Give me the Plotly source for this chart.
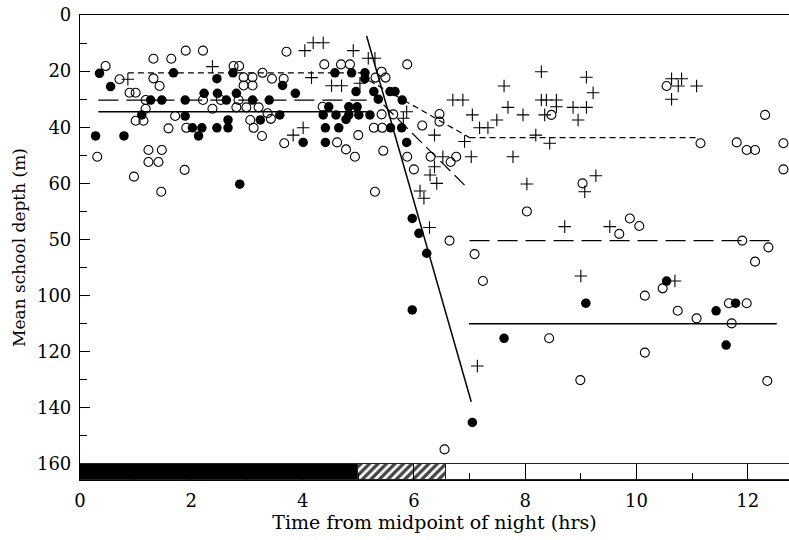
import plotly.graph_objects as go

# ---------------- data (time from midpoint of night, hrs ; mean school depth, m)
filled_x = [0.35, 0.28, 0.55, 0.79, 1.11, 1.27, 1.47, 1.68, 1.89, 1.89, 2.02, 2.19, 2.13, 2.23, 2.46, 2.47,
            2.63, 2.66, 2.66, 2.46, 2.75, 2.81, 3.10, 3.24, 3.40, 3.59, 3.64, 3.87, 4.01, 4.37, 4.41, 4.41,
            4.47, 2.87,
            4.58, 4.88, 5.12, 5.12, 4.96, 5.28, 5.36, 5.57, 5.66, 5.79, 4.83, 4.98, 4.60, 4.83, 5.01, 5.21,
            4.78, 4.65, 5.58, 5.78, 5.87,
            5.97, 6.09, 6.23, 10.54, 5.97, 7.62, 7.05, 9.09, 11.43, 11.78, 11.61]
filled_y = [20.8, 43.1, 25.5, 43.1, 35.6, 30.3, 30.3, 20.6, 30.3, 36.0, 40.2, 40.2, 43.1, 27.9, 22.7, 27.9,
            30.3, 37.4, 40.2, 40.2, 20.6, 27.9, 30.3, 37.4, 30.3, 35.6, 25.1, 27.9, 45.4, 35.6, 40.2, 45.4,
            32.7, 60.3,
            20.6, 20.6, 20.6, 22.7, 27.3, 27.3, 30.0, 27.3, 27.3, 30.3, 32.7, 32.7, 35.6, 35.6, 35.6, 35.6,
            37.2, 40.2, 40.2, 40.2, 45.4,
            72.5, 77.8, 84.9, 94.8, 105.1, 115.2, 145.2, 102.7, 105.4, 102.7, 117.6]

open_x = [0.46, 0.31, 0.71, 0.89, 1.00, 1.18, 1.18, 1.00, 1.14, 1.32, 1.32, 1.43, 1.23, 1.47, 1.23, 1.41,
          0.97, 1.64, 1.59, 1.71, 1.90, 2.21, 1.88, 1.91, 2.21, 2.38, 2.53, 2.76, 2.86, 2.94, 2.94, 3.10,
          3.10, 2.85, 2.81, 2.99, 3.21, 3.06, 3.12, 3.27, 3.28, 3.45, 3.37, 3.43, 3.66, 3.71, 3.67, 4.39,
          4.36, 1.46, 5.30,
          4.69, 4.85, 5.88, 5.42, 5.31, 5.49, 5.42, 5.63, 5.28, 5.43, 5.00, 4.62, 4.78, 4.94, 5.45, 5.88,
          6.00, 6.15, 6.46, 6.46, 6.30, 6.66, 6.76,
          8.47, 10.54, 11.15, 11.80, 11.98, 12.13, 12.31, 12.64, 12.64,
          8.03, 9.03, 9.88, 10.05, 9.69, 6.64, 7.09, 7.24, 11.90, 12.37, 12.13, 10.15, 10.47,
          6.55, 8.43, 8.99, 10.15, 10.74, 11.08, 11.66, 11.98, 11.71, 12.35]
open_y = [18.2, 50.5, 22.9, 27.7, 27.7, 30.3, 33.4, 37.7, 37.7, 15.6, 22.6, 25.3, 48.1, 48.1, 52.4, 52.4,
          57.6, 15.6, 40.4, 36.0, 12.7, 12.7, 55.2, 40.2, 30.3, 33.4, 30.3, 18.2, 18.2, 22.2, 25.1, 22.2,
          25.1, 30.3, 32.9, 32.9, 32.9, 37.4, 40.2, 43.1, 20.6, 22.7, 35.0, 37.0, 22.7, 13.1, 45.7, 17.6,
          32.7, 63.0, 63.0,
          17.6, 17.6, 17.6, 20.2, 22.3, 22.3, 35.4, 35.4, 40.2, 40.2, 42.8, 45.4, 47.9, 50.5, 48.4, 50.5,
          55.0, 39.4, 35.3, 38.0, 50.5, 52.4, 50.5,
          35.6, 25.3, 45.7, 45.4, 48.1, 48.1, 35.6, 45.7, 55.0,
          70.0, 60.0, 72.5, 75.2, 78.0, 80.4, 85.2, 94.8, 80.4, 82.8, 87.9, 100.0, 97.4,
          154.8, 115.2, 130.1, 120.3, 105.4, 108.1, 102.7, 102.7, 109.9, 130.4]

plus_x = [0.86, 2.38, 3.83, 4.01,
          4.04, 4.19, 4.37, 4.91, 5.18, 5.30, 4.16, 4.52, 4.70, 5.03, 5.87, 5.81, 6.37, 6.52, 6.37, 6.29,
          7.03, 6.91, 6.70, 6.88, 7.05, 7.18, 7.33, 7.49, 7.62, 7.69, 7.96, 7.78, 8.29, 8.19, 8.29, 8.38,
          8.35,
          8.56, 8.56, 8.44, 9.10, 9.22, 8.86, 9.10, 8.95, 10.63, 10.81, 10.75, 11.08, 10.63, 9.27,
          6.41, 6.11, 6.18, 6.28, 8.03, 9.07, 8.71, 9.52, 9.00, 10.69, 7.14]
plus_y = [22.9, 18.4, 42.8, 40.2,
          12.7, 9.9, 9.9, 12.7, 15.4, 15.4, 22.3, 25.2, 25.2, 24.3, 34.5, 36.8, 42.8, 50.5, 54.1, 57.0,
          50.5, 45.1, 30.3, 30.3, 35.6, 40.2, 40.2, 37.4, 25.3, 32.9, 35.6, 50.5, 20.2, 42.8, 30.3, 30.3,
          35.6,
          30.3, 32.7, 45.7, 22.2, 27.7, 32.9, 32.9, 37.4, 22.7, 22.7, 25.3, 25.3, 30.0, 57.3,
          60.0, 62.7, 65.3, 75.7, 60.2, 63.0, 75.4, 75.4, 93.0, 94.8, 125.1]

# fitted lines: night level, transition, day level
filled_fit_x = [[0.33, 5.15], [5.15, 7.03], [6.99, 12.52]]
filled_fit_y = [[34.5, 34.5], [7.5, 137.8], [110.0, 110.0]]
open_fit_x = [[0.33, 5.15], [5.2, 6.94], [7.0, 12.52]]
open_fit_y = [[30.3, 30.3], [27.0, 61.2], [80.4, 80.4]]
plus_fit_x = [[0.86, 5.15], [5.2, 7.0], [7.0, 11.08]]
plus_fit_y = [[20.6, 20.6], [23.4, 43.7], [43.7, 43.7]]

# light phases along the time axis (night, twilight, day)
phase_start = [0.0, 5.0, 6.57]
phase_end = [5.0, 6.57, 13.5]
phase_depth_top = 160.0
phase_depth_bottom = 165.7

ytick_vals = [0, 20, 40, 60, 80, 100, 120, 140, 160]
ytick_text = ["0", "20", "40", "60", "50", "100", "120", "140", "160"]

# ---------------- figure
FONT = "DejaVu Serif"
FS_TICK = 18
FS_XTITLE = 19
FS_YTITLE = 17
fig = go.Figure()

fig.add_trace(go.Bar(
    orientation="h",
    y=[(phase_depth_top + phase_depth_bottom) / 2] * len(phase_start),
    x=[e - s for s, e in zip(phase_start, phase_end)],
    base=phase_start,
    width=phase_depth_bottom - phase_depth_top,
    marker=dict(color=["black", "white", "white"],
                line=dict(color="#222222", width=1),
                pattern=dict(shape=["", "/", ""], fgcolor="black", bgcolor="white",
                             size=6, solidity=0.55, fgopacity=1)),
    showlegend=False, hoverinfo="skip"))

dashes = {"filled": "solid", "open": "20px,8px", "plus": "6px,4px"}
for name, xs, ys in [("filled", filled_fit_x, filled_fit_y),
                     ("open", open_fit_x, open_fit_y),
                     ("plus", plus_fit_x, plus_fit_y)]:
    for i, (sx, sy) in enumerate(zip(xs, ys)):
        dash = dashes[name]
        if name == "open" and i == 1:
            dash = "14px,6px"
        fig.add_trace(go.Scatter(x=sx, y=sy, mode="lines",
                                 line=dict(color="black", width=1.5 if name == "filled" else 1.2,
                                           dash=dash),
                                 showlegend=False, hoverinfo="skip"))

fig.add_trace(go.Scatter(x=plus_x, y=plus_y, mode="markers",
                         marker=dict(symbol="cross-thin", size=9, color="black",
                                     line=dict(color="black", width=1.1)),
                         showlegend=False))
fig.add_trace(go.Scatter(x=open_x, y=open_y, mode="markers",
                         marker=dict(symbol="circle-open", size=9, color="black",
                                     line=dict(color="black", width=1.1)),
                         showlegend=False))
fig.add_trace(go.Scatter(x=filled_x, y=filled_y, mode="markers",
                         marker=dict(symbol="circle", size=9.5, color="black",
                                     line=dict(width=0)),
                         showlegend=False))

fig.update_layout(
    width=789, height=540,
    margin=dict(l=80, r=0, t=15, b=60, autoexpand=False),
    paper_bgcolor="white", plot_bgcolor="white",
    font=dict(family=FONT, size=FS_TICK, color="black"),
    bargap=0,
    xaxis=dict(range=[0, 12.74], tickmode="linear", tick0=0, dtick=2, automargin=False,
               ticks="inside", ticklen=16, tickwidth=1, tickcolor="black",
               showline=True, linecolor="black", linewidth=1, mirror=True,
               showgrid=False, zeroline=False,
               minor=dict(dtick=1, tick0=0, ticks="inside", ticklen=7, tickcolor="black",
                          tickwidth=1, showgrid=False),
               title=dict(text="Time from midpoint of night (hrs)", standoff=3,
                          font=dict(family=FONT, size=FS_XTITLE)),
               tickfont=dict(family=FONT, size=FS_TICK), ticklabelstandoff=4),
    yaxis=dict(range=[165.7, 0], tickmode="array", tickvals=ytick_vals, ticktext=ytick_text,
               automargin=False,
               ticks="inside", ticklen=10, tickwidth=1, tickcolor="black",
               showline=True, linecolor="black", linewidth=1.2,
               showgrid=False, zeroline=False,
               minor=dict(tickvals=[10, 30, 50, 70, 90, 110, 130, 150], ticks="inside",
                          ticklen=7, tickcolor="black", tickwidth=1, showgrid=False),
               title=dict(text="Mean school depth (m)", standoff=6,
                          font=dict(family=FONT, size=FS_YTITLE)),
               tickfont=dict(family=FONT, size=FS_TICK), ticklabelstandoff=4),
)

fig.write_html("out.html", config={"displayModeBar": False},
               post_script="document.body.style.margin='0';document.body.style.padding='0';")
